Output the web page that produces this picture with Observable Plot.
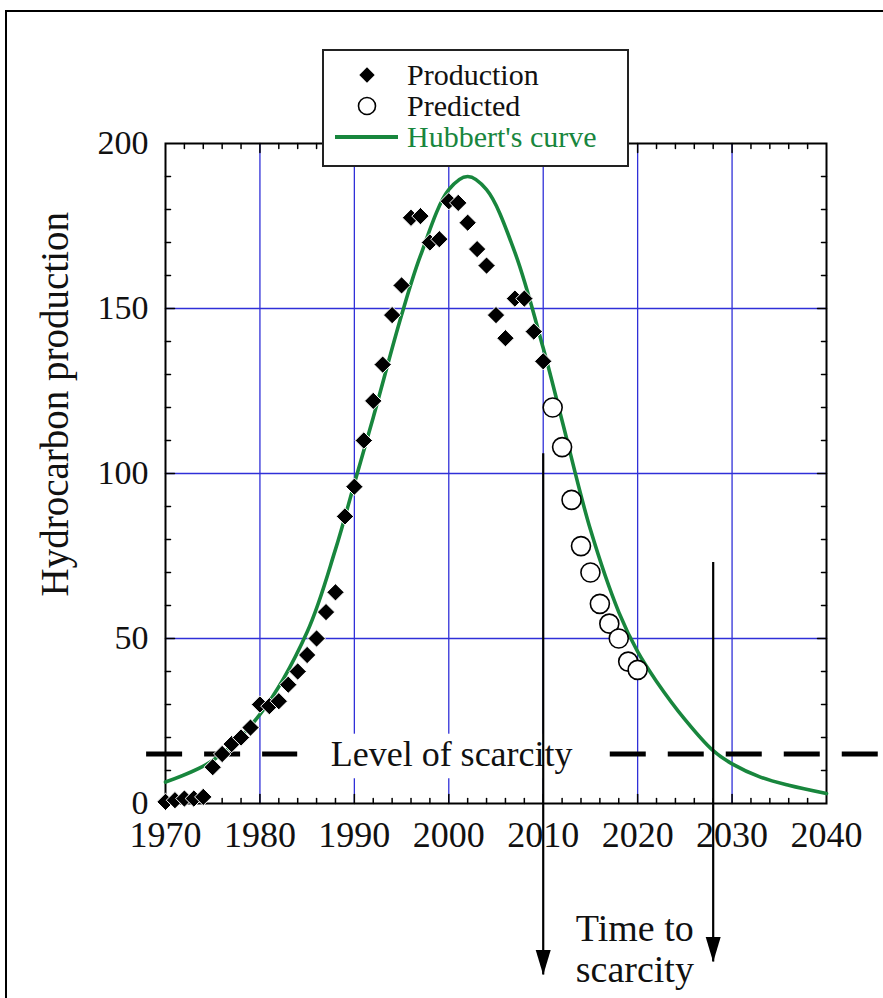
<!DOCTYPE html>
<html>
<head>
<meta charset="utf-8">
<script src="https://cdn.jsdelivr.net/npm/d3@7"></script>
<script src="https://cdn.jsdelivr.net/npm/@observablehq/plot@0.6"></script>
<style>
  html, body { margin: 0; padding: 0; background: #fff; }
  #wrap { position: relative; width: 883px; height: 998px; overflow: hidden; font-family: "Liberation Serif", "Times New Roman", serif; }
  #chart { position: absolute; left: 0; top: 0; }
  #border { position: absolute; left: 5px; top: 10px; width: 900px; height: 1000px; border-left: 2px solid #000; border-top: 2px solid #000; pointer-events: none; }
  #legend { position: absolute; left: 322px; top: 49px; width: 303px; height: 114px; border: 2px solid #222; background: #fff; }
  #legend svg { position: absolute; left: 0; top: 0; }
</style>
</head>
<body>
<div id="wrap">
  <div id="chart"></div>
  <div id="border"></div>
  <div id="legend"></div>
</div>
<script>
// ---------------- data ----------------
const productionYears = [1970, 1971, 1972, 1973, 1974, 1975, 1976, 1977, 1978, 1979,
  1980, 1981, 1982, 1983, 1984, 1985, 1986, 1987, 1988, 1989,
  1990, 1991, 1992, 1993, 1994, 1995, 1996, 1997, 1998, 1999,
  2000, 2001, 2002, 2003, 2004, 2005, 2006, 2007, 2008, 2009, 2010];
const productionValues = [0.5, 1, 1.5, 1.5, 2, 11, 15, 18, 20, 23,
  30, 29.5, 31, 36, 40, 45, 50, 58, 64, 87,
  96, 110, 122, 133, 148, 157, 177.5, 178, 170, 171,
  182.5, 182, 176, 168, 163, 148, 141, 153, 153, 143, 134];

const predictedYears = [2011, 2012, 2013, 2014, 2015, 2016, 2017, 2018, 2019, 2020];
const predictedValues = [120, 108, 92, 78, 70, 60.5, 54.5, 50, 43, 40.5];

const hubbertYears = [1970, 1975, 1980, 1985, 1988, 1990, 1992, 1995, 1997, 2000, 2002, 2004,
  2007, 2010, 2012, 2015, 2018, 2020, 2022, 2025, 2028, 2030, 2033, 2036, 2040];
const hubbertValues = [6.5, 13, 27, 52, 77, 97, 117, 148, 166, 186, 190, 186,
  167, 138, 116, 83, 58, 46, 37, 25.5, 16, 12, 8, 5.5, 3];

const xTickLabels = [1970, 1980, 1990, 2000, 2010, 2020, 2030, 2040];
const yTickLabels = [0, 50, 100, 150, 200];
const gridYears = [1980, 1990, 2000, 2010, 2020, 2030];
const gridValues = [50, 100, 150];

const scarcityLevel = 15;
const scarcityLabel = "Level of scarcity";
const scarcitySegments = [[1968, 1984], [2017.1, 2046]];
const arrowYears = [2010, 2028];
const arrowTops = [106, 73];
const arrowTips = [-52, -48];
const timeLabel = "Time to\nscarcity";
const yLabel = "Hydrocarbon production";
const legendLabels = ["Production", "Predicted", "Hubbert's curve"];

// ---------------- styles ----------------
const green = "#18863d";
const gridColor = "#3030d8";
const serif = "Liberation Serif, Times New Roman, serif";

const production = productionYears.map((y, i) => ({year: y, value: productionValues[i]}));
const predicted = predictedYears.map((y, i) => ({year: y, value: predictedValues[i]}));
const hubbert = hubbertYears.map((y, i) => ({year: y, value: hubbertValues[i]}));
const arrows = arrowYears.map((y, i) => ({year: y, top: arrowTops[i], tip: arrowTips[i]}));

const minorYears = d3.range(1972, 2040, 2).filter(d => d % 10 !== 0);
const majorYears = gridYears;
const minorValues = d3.range(10, 200, 10).filter(d => d % 50 !== 0);
const majorValues = gridValues;

const tickShape = {draw(context, l) { context.moveTo(0, 0); context.lineTo(0, -l); }};
const arrowHead = {draw(context) { context.moveTo(0, 0); context.lineTo(-7.5, -25); context.lineTo(7.5, -25); context.closePath(); }};

function ticks(values, channel, frameAnchor, rotate, length) {
  return Plot.vector(values, {
    [channel]: d => d, frameAnchor, rotate, length, anchor: "start",
    shape: tickShape, stroke: "black", strokeWidth: 1.5
  });
}

const chart = Plot.plot({
  width: 883,
  height: 998,
  marginLeft: 165,
  marginRight: 57,
  marginTop: 143,
  marginBottom: 195,
  style: {fontFamily: serif, fontSize: "35px", background: "transparent", color: "#111"},
  x: {domain: [1970, 2040]},
  y: {domain: [0, 200]},
  marks: [
    Plot.gridX(gridYears, {stroke: gridColor, strokeOpacity: 1, strokeWidth: 1.3}),
    Plot.gridY(gridValues, {stroke: gridColor, strokeOpacity: 1, strokeWidth: 1.3}),
    ticks(minorYears, "x", "bottom", 0, 5),
    ticks(majorYears, "x", "bottom", 0, 9),
    ticks(minorYears, "x", "top", 180, 5),
    ticks(majorYears, "x", "top", 180, 9),
    ticks(minorValues, "y", "left", 90, 5),
    ticks(majorValues, "y", "left", 90, 9),
    ticks(minorValues, "y", "right", -90, 5),
    ticks(majorValues, "y", "right", -90, 9),
    Plot.frame({stroke: "black", strokeWidth: 2}),
    Plot.axisX({ticks: xTickLabels, tickSize: 0, tickPadding: 18, tickFormat: d => String(d), label: null, fontSize: 36}),
    Plot.axisY({ticks: yTickLabels, tickSize: 0, tickPadding: 17, tickFormat: d => String(d), label: null, fontSize: 34}),
    Plot.text([yLabel], {text: d => d, frameAnchor: "left", y: 121, dx: -110, rotate: -90, textAnchor: "middle", fontSize: 39, fill: "#111"}),
    // white label box of the scarcity level
    Plot.rect([scarcityLabel], {x1: scarcitySegments[0][1], x2: scarcitySegments[1][0], y1: scarcityLevel - 7.5, y2: scarcityLevel + 6, fill: "white"}),
    Plot.line(hubbert, {x: "year", y: "value", stroke: green, strokeWidth: 3.6, curve: "catmull-rom"}),
    Plot.ruleY(scarcitySegments, {x1: d => d[0], x2: d => d[1], y: scarcityLevel, stroke: "black", strokeWidth: 5, strokeDasharray: "36,22"}),
    Plot.text([scarcityLabel], {text: d => d, x: 2000.3, y: scarcityLevel, fontSize: 36, fill: "#111"}),
    Plot.dot(production, {x: "year", y: "value", symbol: "diamond2", r: 7.8, fill: "black", stroke: "white", strokeWidth: 1}),
    Plot.dot(predicted, {x: "year", y: "value", r: 9.5, fill: "white", stroke: "black", strokeWidth: 1.6}),
    Plot.ruleX(arrows, {x: "year", y1: "top", y2: "tip", stroke: "black", strokeWidth: 2.2}),
    Plot.dot(arrows, {x: "year", y: "tip", symbol: arrowHead, fill: "black", stroke: "none", r: 5}),
    Plot.text([timeLabel], {text: d => d, x: 2019.7, y: -44, fontSize: 38, lineHeight: 1.08, fill: "#111"})
  ]
});
document.getElementById("chart").appendChild(chart);

// ---------------- legend ----------------
const lg = d3.select("#legend").append("svg").attr("width", 303).attr("height", 114)
  .style("font-family", serif).style("font-size", "30px");
const rows = [34, 65, 96];
legendLabels.forEach((label, i) => {
  const cy = rows[i] - 10;
  if (i === 0) {
    lg.append("path").attr("d", d3.symbol(d3.symbolDiamond2, 150)()).attr("transform", `translate(43,${cy})`).attr("fill", "black");
  } else if (i === 1) {
    lg.append("circle").attr("cx", 43).attr("cy", cy).attr("r", 8.5).attr("fill", "white").attr("stroke", "black").attr("stroke-width", 1.6);
  } else {
    lg.append("line").attr("x1", 11).attr("x2", 74).attr("y1", cy).attr("y2", cy).attr("stroke", green).attr("stroke-width", 4);
  }
  lg.append("text").attr("x", 83).attr("y", rows[i]).attr("fill", i === 2 ? green : "#111").text(label);
});
</script>
</body>
</html>
